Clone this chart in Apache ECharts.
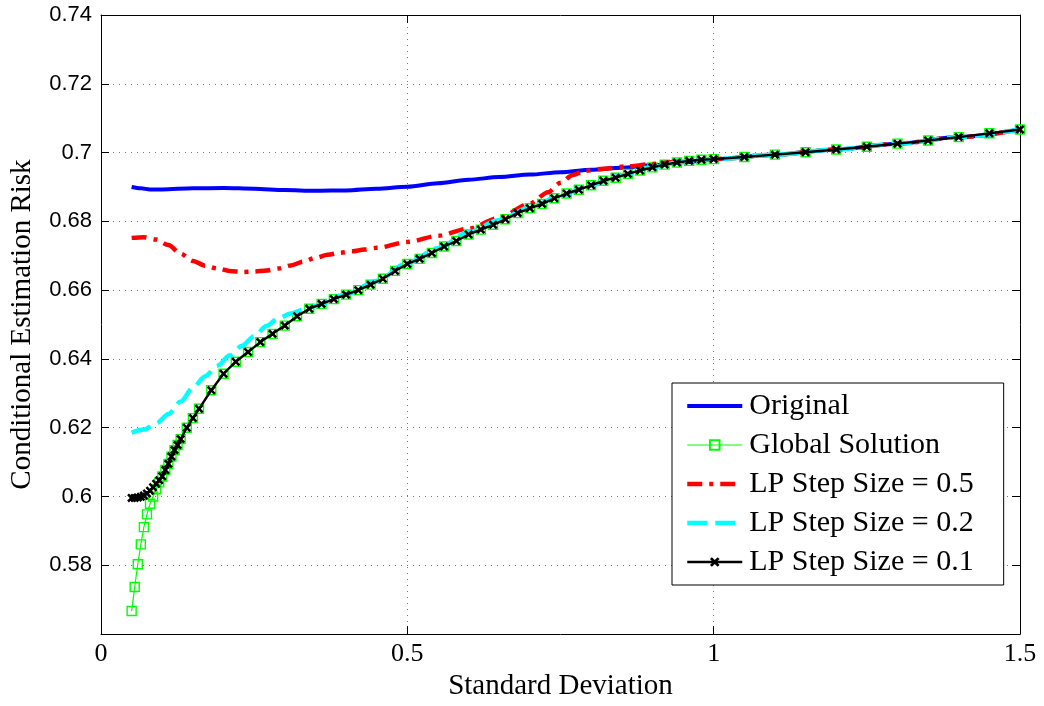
<!DOCTYPE html>
<html>
<head>
<meta charset="utf-8">
<script src="https://cdn.jsdelivr.net/npm/echarts@6/dist/echarts.min.js"></script>
<style>html,body{margin:0;padding:0;background:#fff;}#c{width:1044px;height:706px;}</style>
</head>
<body>
<div id="c"></div>
<script>
// ---- data ----
const xTickLabels = ['0', '0.5', '1', '1.5'];
const yTickLabels = ['0.58','0.6','0.62','0.64','0.66','0.68','0.7','0.72','0.74'];

const xOriginal = [0.05,0.065,0.08,0.1,0.15,0.2,0.25,0.3,0.35,0.4,0.45,0.5,0.55,0.6,0.65,0.7,0.75,0.8,0.85,0.9,0.95,1.0,1.1,1.2,1.3,1.4,1.5];
const yOriginal = [0.6900,0.6896,0.6893,0.6893,0.6896,0.6897,0.6895,0.6891,0.6889,0.6890,0.6895,0.6901,0.6911,0.6921,0.6929,0.6936,0.6943,0.6950,0.6956,0.6963,0.6972,0.6981,0.6994,0.7009,0.7026,0.7045,0.7067];

const xLP = [0.05,0.055,0.06,0.065,0.07,0.075,0.08,0.085,0.09,0.095,0.1,0.105,0.11,0.115,0.12,0.125,0.13,0.14,0.15,0.16,0.18,0.2,0.22,0.24,0.26,0.28,0.3,0.32,0.34,0.36,0.38,0.4,0.42,0.44,0.46,0.48,0.5,0.52,0.54,0.56,0.58,0.6,0.62,0.64,0.66,0.68,0.7,0.72,0.74,0.76,0.78,0.8,0.82,0.84,0.86,0.88,0.9,0.92,0.94,0.96,0.98,1.0,1.05,1.1,1.15,1.2,1.25,1.3,1.35,1.4,1.45,1.5];
const yGlobal = [0.5667,0.5737,0.5803,0.5861,0.5911,0.5948,0.5979,0.6000,0.6021,0.6041,0.6058,0.6077,0.6095,0.6116,0.6135,0.6150,0.6167,0.6200,0.6228,0.6255,0.6309,0.6357,0.6392,0.6420,0.6449,0.6473,0.6497,0.6524,0.6546,0.6560,0.6574,0.6587,0.6600,0.6616,0.6633,0.6656,0.6676,0.6691,0.6708,0.6727,0.6743,0.6762,0.6776,0.6790,0.6806,0.6824,0.6838,0.6851,0.6867,0.6881,0.6892,0.6905,0.6918,0.6927,0.6938,0.6948,0.6957,0.6965,0.6971,0.6976,0.6979,0.6981,0.6987,0.6994,0.7001,0.7009,0.7017,0.7026,0.7035,0.7045,0.7056,0.7067];
const yStep01 = [0.5996,0.5996,0.5997,0.5999,0.6003,0.6009,0.6017,0.6027,0.6037,0.6047,0.6059,0.6077,0.6095,0.6116,0.6135,0.6150,0.6167,0.6200,0.6228,0.6255,0.6309,0.6357,0.6392,0.6420,0.6449,0.6473,0.6497,0.6524,0.6546,0.6560,0.6574,0.6587,0.6600,0.6616,0.6633,0.6656,0.6676,0.6691,0.6708,0.6727,0.6743,0.6762,0.6776,0.6790,0.6806,0.6824,0.6838,0.6851,0.6867,0.6881,0.6892,0.6905,0.6918,0.6927,0.6938,0.6948,0.6957,0.6965,0.6971,0.6976,0.6979,0.6981,0.6987,0.6994,0.7001,0.7009,0.7017,0.7026,0.7035,0.7045,0.7056,0.7067];

const xStep05 = [0.05,0.07,0.09,0.11,0.13,0.15,0.17,0.19,0.21,0.23,0.25,0.27,0.29,0.31,0.33,0.35,0.37,0.39,0.41,0.43,0.45,0.5,0.55,0.6,0.65,0.7,0.73,0.75,0.77,0.79,0.82,0.86,0.9,0.95,1.0,1.1,1.2,1.3,1.4,1.5];
const yStep05 = [0.6752,0.6754,0.6747,0.6731,0.6706,0.6685,0.6671,0.6663,0.6656,0.6653,0.6654,0.6657,0.6663,0.6672,0.6683,0.6694,0.6703,0.6709,0.6713,0.6718,0.6723,0.6740,0.6758,0.6779,0.6810,0.6852,0.6885,0.6912,0.6935,0.6947,0.6953,0.6960,0.6967,0.6975,0.6981,0.6994,0.7009,0.7026,0.7045,0.7067];

const xStep02 = [0.05,0.07,0.09,0.11,0.13,0.15,0.17,0.19,0.21,0.23,0.25,0.27,0.29,0.31,0.33,0.35,0.4,0.45,0.5,0.55,0.6,0.65,0.7,0.75,0.8,0.85,0.9,0.95,1.0,1.1,1.2,1.3,1.4,1.5];
const yStep02 = [0.6186,0.6195,0.6212,0.6240,0.6276,0.6316,0.6350,0.6380,0.6410,0.6438,0.6466,0.6496,0.6519,0.6532,0.6543,0.6555,0.6588,0.6627,0.6679,0.6722,0.6768,0.6804,0.6841,0.6875,0.6906,0.6934,0.6958,0.6974,0.6981,0.6994,0.7009,0.7026,0.7045,0.7067];

const seriesNames = ['Original','Global Solution','LP Step Size = 0.5','LP Step Size = 0.2','LP Step Size = 0.1'];

function pairs(xs, ys){ return xs.map((x,i)=>[x, ys[i]]); }

const serif = 'Liberation Serif';
const sans = 'Liberation Sans';
const xMark = 'path://M0,2L2,0L5,3L8,0L10,2L7,5L10,8L8,10L5,7L2,10L0,8L3,5Z';

const chart = echarts.init(document.getElementById('c'), null, {renderer:'canvas'});
const gridDots = {show:true, lineStyle:{color:'#777', width:1, type:[1,5]}};
const tickIn = {show:true, inside:true, length:8, lineStyle:{color:'#000', width:1}};
const hideSym = {opacity:0};

chart.setOption({
  animation:false,
  backgroundColor:'#fff',
  grid:{left:99, right:24, top:15, bottom:61, containLabel:false},
  xAxis:[{
    type:'value', min:0, max:1.5, interval:0.5,
    axisLine:{show:true, onZero:false, lineStyle:{color:'#000', width:1}},
    axisTick:tickIn,
    splitLine:gridDots,
    axisLabel:{color:'#000', fontFamily:serif, fontSize:26, margin:7,
      formatter:(v)=>xTickLabels[Math.round(v/0.5)] || ''},
    name:'Standard Deviation', nameLocation:'middle', nameGap:33,
    nameTextStyle:{color:'#000', fontFamily:serif, fontSize:29}
  },{
    type:'value', position:'top', min:0, max:1.5, interval:0.5,
    axisLine:{show:true, onZero:false, lineStyle:{color:'#000', width:1}},
    axisTick:tickIn, axisLabel:{show:false}, splitLine:{show:false}
  }],
  yAxis:[{
    type:'value', min:0.56, max:0.74, interval:0.02,
    axisLine:{show:true, onZero:false, lineStyle:{color:'#000', width:1}},
    axisTick:tickIn,
    splitLine:gridDots,
    axisLabel:{color:'#000', fontFamily:sans, fontSize:22, margin:9,
      formatter:(v)=>{const i=Math.round((v-0.58)/0.02); return (i>=0 && i<yTickLabels.length)? yTickLabels[i] : '';}},
    name:'Conditional Estimation Risk', nameLocation:'middle', nameGap:64,
    nameTextStyle:{color:'#000', fontFamily:serif, fontSize:29}
  },{
    type:'value', position:'right', min:0.56, max:0.74, interval:0.02,
    axisLine:{show:true, onZero:false, lineStyle:{color:'#000', width:1}},
    axisTick:tickIn, axisLabel:{show:false}, splitLine:{show:false}
  }],
  legend:{
    orient:'vertical', left:672, top:383,
    backgroundColor:'#fff', borderColor:'#000', borderWidth:1, borderRadius:0,
    padding:[8,30,8,13],
    itemWidth:55, itemHeight:12, itemGap:9,
    lineStyle:{width:'inherit'},
    textStyle:{color:'#000', fontFamily:serif, fontSize:30, padding:[0,0,0,2]},
    data:[
      {name:seriesNames[0], itemStyle:hideSym},
      {name:seriesNames[1]},
      {name:seriesNames[2], itemStyle:hideSym},
      {name:seriesNames[3], itemStyle:hideSym},
      {name:seriesNames[4]}
    ]
  },
  series:[
    {name:seriesNames[0], type:'line', data:pairs(xOriginal,yOriginal), symbol:'none',
     smooth:0.3, smoothMonotone:'x',
     lineStyle:{color:'#0000ff', width:4}, itemStyle:{color:'#0000ff'}, z:2},
    {name:seriesNames[1], type:'line', data:pairs(xLP,yGlobal), symbol:'rect', symbolSize:9,
     lineStyle:{color:'#00ff00', width:1.2},
     itemStyle:{color:'rgba(255,255,255,0)', borderColor:'#00ff00', borderWidth:1.4}, z:3},
    {name:seriesNames[2], type:'line', data:pairs(xStep05,yStep05), symbol:'none',
     smooth:0.3, smoothMonotone:'x',
     lineStyle:{color:'#ff0000', width:4.5, type:[15,7,4,7]}, itemStyle:{color:'#ff0000'}, z:4},
    {name:seriesNames[3], type:'line', data:pairs(xStep02,yStep02), symbol:'none',
     smooth:0.3, smoothMonotone:'x',
     lineStyle:{color:'#00ffff', width:4.5, type:[20,8]}, itemStyle:{color:'#00ffff'}, z:5},
    {name:seriesNames[4], type:'line', data:pairs(xLP,yStep01), symbol:xMark, symbolSize:9,
     lineStyle:{color:'#000', width:2.4}, itemStyle:{color:'#000'}, z:6}
  ]
});
</script>
</body>
</html>
